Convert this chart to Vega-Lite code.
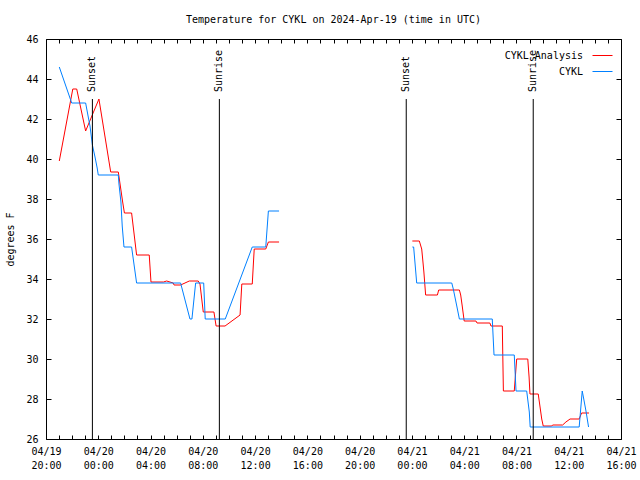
{
  "$schema": "https://vega.github.io/schema/vega-lite/v6.json",
  "autosize": "none",
  "width": 575,
  "height": 400,
  "padding": {"left": 46, "top": 39, "right": 19, "bottom": 41},
  "background": "white",
  "title": {"text": "Temperature for CYKL on 2024-Apr-19 (time in UTC)", "font": "DejaVu Sans Mono", "fontSize": 10, "fontWeight": "normal", "color": "black", "offset": 9, "anchor": "middle"},
  "config": {
    "view": {"stroke": "black", "strokeWidth": 1},
    "font": "DejaVu Sans Mono",
    "axis": {"labelFont": "DejaVu Sans Mono", "labelFontSize": 10, "labelColor": "black", "tickColor": "black", "tickWidth": 1, "domain": false, "grid": false, "titleFont": "DejaVu Sans Mono", "titleFontSize": 10, "titleFontWeight": "normal", "titleColor": "black"},
    "legend": {"labelFont": "DejaVu Sans Mono", "labelFontSize": 10, "labelColor": "black"}
  },
  "datasets": {
    "temps": [
      {"series": "CYKL Analysis", "seg": 1, "t": "2024-04-19T21:01:00Z", "temp": 39.9},
      {"series": "CYKL Analysis", "seg": 1, "t": "2024-04-19T22:03:00Z", "temp": 43.5},
      {"series": "CYKL Analysis", "seg": 1, "t": "2024-04-19T22:21:00Z", "temp": 43.5},
      {"series": "CYKL Analysis", "seg": 1, "t": "2024-04-19T23:02:00Z", "temp": 41.4},
      {"series": "CYKL Analysis", "seg": 1, "t": "2024-04-20T00:03:00Z", "temp": 43.0},
      {"series": "CYKL Analysis", "seg": 1, "t": "2024-04-20T00:57:00Z", "temp": 39.35},
      {"series": "CYKL Analysis", "seg": 1, "t": "2024-04-20T01:32:00Z", "temp": 39.35},
      {"series": "CYKL Analysis", "seg": 1, "t": "2024-04-20T01:40:00Z", "temp": 38.75},
      {"series": "CYKL Analysis", "seg": 1, "t": "2024-04-20T01:52:00Z", "temp": 37.85},
      {"series": "CYKL Analysis", "seg": 1, "t": "2024-04-20T02:00:00Z", "temp": 37.3},
      {"series": "CYKL Analysis", "seg": 1, "t": "2024-04-20T02:33:00Z", "temp": 37.3},
      {"series": "CYKL Analysis", "seg": 1, "t": "2024-04-20T02:56:00Z", "temp": 35.2},
      {"series": "CYKL Analysis", "seg": 1, "t": "2024-04-20T03:54:00Z", "temp": 35.2},
      {"series": "CYKL Analysis", "seg": 1, "t": "2024-04-20T04:02:00Z", "temp": 33.85},
      {"series": "CYKL Analysis", "seg": 1, "t": "2024-04-20T04:59:00Z", "temp": 33.85},
      {"series": "CYKL Analysis", "seg": 1, "t": "2024-04-20T05:14:00Z", "temp": 33.9},
      {"series": "CYKL Analysis", "seg": 1, "t": "2024-04-20T05:44:00Z", "temp": 33.8},
      {"series": "CYKL Analysis", "seg": 1, "t": "2024-04-20T05:48:00Z", "temp": 33.7},
      {"series": "CYKL Analysis", "seg": 1, "t": "2024-04-20T06:18:00Z", "temp": 33.7},
      {"series": "CYKL Analysis", "seg": 1, "t": "2024-04-20T06:58:00Z", "temp": 33.9},
      {"series": "CYKL Analysis", "seg": 1, "t": "2024-04-20T07:39:00Z", "temp": 33.9},
      {"series": "CYKL Analysis", "seg": 1, "t": "2024-04-20T07:47:00Z", "temp": 33.75},
      {"series": "CYKL Analysis", "seg": 1, "t": "2024-04-20T08:02:00Z", "temp": 32.35},
      {"series": "CYKL Analysis", "seg": 1, "t": "2024-04-20T08:51:00Z", "temp": 32.35},
      {"series": "CYKL Analysis", "seg": 1, "t": "2024-04-20T09:01:00Z", "temp": 31.65},
      {"series": "CYKL Analysis", "seg": 1, "t": "2024-04-20T09:42:00Z", "temp": 31.65},
      {"series": "CYKL Analysis", "seg": 1, "t": "2024-04-20T10:51:00Z", "temp": 32.2},
      {"series": "CYKL Analysis", "seg": 1, "t": "2024-04-20T10:59:00Z", "temp": 33.75},
      {"series": "CYKL Analysis", "seg": 1, "t": "2024-04-20T11:47:00Z", "temp": 33.75},
      {"series": "CYKL Analysis", "seg": 1, "t": "2024-04-20T11:56:00Z", "temp": 35.5},
      {"series": "CYKL Analysis", "seg": 1, "t": "2024-04-20T12:49:00Z", "temp": 35.5},
      {"series": "CYKL Analysis", "seg": 1, "t": "2024-04-20T13:01:00Z", "temp": 35.85},
      {"series": "CYKL Analysis", "seg": 1, "t": "2024-04-20T13:50:00Z", "temp": 35.85},
      {"series": "CYKL Analysis", "seg": 2, "t": "2024-04-21T00:02:00Z", "temp": 35.9},
      {"series": "CYKL Analysis", "seg": 2, "t": "2024-04-21T00:34:00Z", "temp": 35.9},
      {"series": "CYKL Analysis", "seg": 2, "t": "2024-04-21T00:45:00Z", "temp": 35.5},
      {"series": "CYKL Analysis", "seg": 2, "t": "2024-04-21T00:49:00Z", "temp": 35.05},
      {"series": "CYKL Analysis", "seg": 2, "t": "2024-04-21T00:55:00Z", "temp": 34.35},
      {"series": "CYKL Analysis", "seg": 2, "t": "2024-04-21T01:03:00Z", "temp": 33.2},
      {"series": "CYKL Analysis", "seg": 2, "t": "2024-04-21T01:57:00Z", "temp": 33.2},
      {"series": "CYKL Analysis", "seg": 2, "t": "2024-04-21T02:03:00Z", "temp": 33.45},
      {"series": "CYKL Analysis", "seg": 2, "t": "2024-04-21T03:38:00Z", "temp": 33.45},
      {"series": "CYKL Analysis", "seg": 2, "t": "2024-04-21T03:44:00Z", "temp": 33.2},
      {"series": "CYKL Analysis", "seg": 2, "t": "2024-04-21T03:51:00Z", "temp": 32.65},
      {"series": "CYKL Analysis", "seg": 2, "t": "2024-04-21T04:00:00Z", "temp": 31.9},
      {"series": "CYKL Analysis", "seg": 2, "t": "2024-04-21T04:54:00Z", "temp": 31.9},
      {"series": "CYKL Analysis", "seg": 2, "t": "2024-04-21T04:59:00Z", "temp": 31.8},
      {"series": "CYKL Analysis", "seg": 2, "t": "2024-04-21T05:58:00Z", "temp": 31.8},
      {"series": "CYKL Analysis", "seg": 2, "t": "2024-04-21T06:03:00Z", "temp": 31.65},
      {"series": "CYKL Analysis", "seg": 2, "t": "2024-04-21T06:55:00Z", "temp": 31.65},
      {"series": "CYKL Analysis", "seg": 2, "t": "2024-04-21T07:00:00Z", "temp": 28.4},
      {"series": "CYKL Analysis", "seg": 2, "t": "2024-04-21T07:50:00Z", "temp": 28.4},
      {"series": "CYKL Analysis", "seg": 2, "t": "2024-04-21T08:01:00Z", "temp": 30.0},
      {"series": "CYKL Analysis", "seg": 2, "t": "2024-04-21T08:52:00Z", "temp": 30.0},
      {"series": "CYKL Analysis", "seg": 2, "t": "2024-04-21T08:58:00Z", "temp": 29.1},
      {"series": "CYKL Analysis", "seg": 2, "t": "2024-04-21T09:02:00Z", "temp": 28.25},
      {"series": "CYKL Analysis", "seg": 2, "t": "2024-04-21T09:40:00Z", "temp": 28.25},
      {"series": "CYKL Analysis", "seg": 2, "t": "2024-04-21T09:56:00Z", "temp": 27.0},
      {"series": "CYKL Analysis", "seg": 2, "t": "2024-04-21T10:03:00Z", "temp": 26.65},
      {"series": "CYKL Analysis", "seg": 2, "t": "2024-04-21T10:42:00Z", "temp": 26.65},
      {"series": "CYKL Analysis", "seg": 2, "t": "2024-04-21T10:46:00Z", "temp": 26.7},
      {"series": "CYKL Analysis", "seg": 2, "t": "2024-04-21T11:32:00Z", "temp": 26.7},
      {"series": "CYKL Analysis", "seg": 2, "t": "2024-04-21T11:47:00Z", "temp": 26.85},
      {"series": "CYKL Analysis", "seg": 2, "t": "2024-04-21T12:06:00Z", "temp": 27.0},
      {"series": "CYKL Analysis", "seg": 2, "t": "2024-04-21T12:48:00Z", "temp": 27.0},
      {"series": "CYKL Analysis", "seg": 2, "t": "2024-04-21T12:59:00Z", "temp": 27.3},
      {"series": "CYKL Analysis", "seg": 2, "t": "2024-04-21T13:33:00Z", "temp": 27.3},
      {"series": "CYKL", "seg": 3, "t": "2024-04-19T21:01:00Z", "temp": 44.6},
      {"series": "CYKL", "seg": 3, "t": "2024-04-19T21:58:00Z", "temp": 42.8},
      {"series": "CYKL", "seg": 3, "t": "2024-04-19T23:02:00Z", "temp": 42.8},
      {"series": "CYKL", "seg": 3, "t": "2024-04-19T23:14:00Z", "temp": 42.1},
      {"series": "CYKL", "seg": 3, "t": "2024-04-19T23:22:00Z", "temp": 41.65},
      {"series": "CYKL", "seg": 3, "t": "2024-04-19T23:33:00Z", "temp": 40.7},
      {"series": "CYKL", "seg": 3, "t": "2024-04-19T23:45:00Z", "temp": 40.1},
      {"series": "CYKL", "seg": 3, "t": "2024-04-19T23:55:00Z", "temp": 39.55},
      {"series": "CYKL", "seg": 3, "t": "2024-04-20T00:00:00Z", "temp": 39.2},
      {"series": "CYKL", "seg": 3, "t": "2024-04-20T01:32:00Z", "temp": 39.2},
      {"series": "CYKL", "seg": 3, "t": "2024-04-20T01:35:00Z", "temp": 38.75},
      {"series": "CYKL", "seg": 3, "t": "2024-04-20T01:44:00Z", "temp": 37.85},
      {"series": "CYKL", "seg": 3, "t": "2024-04-20T01:50:00Z", "temp": 36.65},
      {"series": "CYKL", "seg": 3, "t": "2024-04-20T01:58:00Z", "temp": 35.6},
      {"series": "CYKL", "seg": 3, "t": "2024-04-20T02:33:00Z", "temp": 35.6},
      {"series": "CYKL", "seg": 3, "t": "2024-04-20T02:56:00Z", "temp": 33.8},
      {"series": "CYKL", "seg": 3, "t": "2024-04-20T06:18:00Z", "temp": 33.8},
      {"series": "CYKL", "seg": 3, "t": "2024-04-20T07:01:00Z", "temp": 32.0},
      {"series": "CYKL", "seg": 3, "t": "2024-04-20T07:10:00Z", "temp": 32.0},
      {"series": "CYKL", "seg": 3, "t": "2024-04-20T07:27:00Z", "temp": 33.8},
      {"series": "CYKL", "seg": 3, "t": "2024-04-20T08:04:00Z", "temp": 33.8},
      {"series": "CYKL", "seg": 3, "t": "2024-04-20T08:11:00Z", "temp": 32.0},
      {"series": "CYKL", "seg": 3, "t": "2024-04-20T09:43:00Z", "temp": 32.0},
      {"series": "CYKL", "seg": 3, "t": "2024-04-20T11:47:00Z", "temp": 35.6},
      {"series": "CYKL", "seg": 3, "t": "2024-04-20T12:49:00Z", "temp": 35.6},
      {"series": "CYKL", "seg": 3, "t": "2024-04-20T13:01:00Z", "temp": 37.4},
      {"series": "CYKL", "seg": 3, "t": "2024-04-20T13:50:00Z", "temp": 37.4},
      {"series": "CYKL", "seg": 4, "t": "2024-04-21T00:02:00Z", "temp": 35.6},
      {"series": "CYKL", "seg": 4, "t": "2024-04-21T00:08:00Z", "temp": 35.6},
      {"series": "CYKL", "seg": 4, "t": "2024-04-21T00:22:00Z", "temp": 33.8},
      {"series": "CYKL", "seg": 4, "t": "2024-04-21T03:03:00Z", "temp": 33.8},
      {"series": "CYKL", "seg": 4, "t": "2024-04-21T03:10:00Z", "temp": 33.5},
      {"series": "CYKL", "seg": 4, "t": "2024-04-21T03:26:00Z", "temp": 32.65},
      {"series": "CYKL", "seg": 4, "t": "2024-04-21T03:38:00Z", "temp": 32.0},
      {"series": "CYKL", "seg": 4, "t": "2024-04-21T06:09:00Z", "temp": 32.0},
      {"series": "CYKL", "seg": 4, "t": "2024-04-21T06:17:00Z", "temp": 30.2},
      {"series": "CYKL", "seg": 4, "t": "2024-04-21T07:50:00Z", "temp": 30.2},
      {"series": "CYKL", "seg": 4, "t": "2024-04-21T07:58:00Z", "temp": 28.4},
      {"series": "CYKL", "seg": 4, "t": "2024-04-21T08:47:00Z", "temp": 28.4},
      {"series": "CYKL", "seg": 4, "t": "2024-04-21T08:59:00Z", "temp": 27.35},
      {"series": "CYKL", "seg": 4, "t": "2024-04-21T09:03:00Z", "temp": 26.6},
      {"series": "CYKL", "seg": 4, "t": "2024-04-21T12:48:00Z", "temp": 26.6},
      {"series": "CYKL", "seg": 4, "t": "2024-04-21T13:02:00Z", "temp": 28.4},
      {"series": "CYKL", "seg": 4, "t": "2024-04-21T13:09:00Z", "temp": 28.0},
      {"series": "CYKL", "seg": 4, "t": "2024-04-21T13:20:00Z", "temp": 27.35},
      {"series": "CYKL", "seg": 4, "t": "2024-04-21T13:31:00Z", "temp": 26.6}
    ],
    "events": [
      {"t": "2024-04-19T23:33:00Z", "label": "Sunset"},
      {"t": "2024-04-20T09:16:00Z", "label": "Sunrise"},
      {"t": "2024-04-20T23:34:00Z", "label": "Sunset"},
      {"t": "2024-04-21T09:17:00Z", "label": "Sunrise"}
    ]
  },
  "layer": [
    {
      "data": {"name": "temps"},
      "mark": {"type": "line", "strokeWidth": 1},
      "encoding": {
        "x": {
          "field": "t", "type": "temporal",
          "scale": {"type": "utc", "domain": [1713556800000, 1713715200000]},
          "axis": {"orient": "bottom", "title": null, "values": [1713556800000, 1713560400000, 1713564000000, 1713567600000, 1713571200000, 1713574800000, 1713578400000, 1713582000000, 1713585600000, 1713589200000, 1713592800000, 1713596400000, 1713600000000, 1713603600000, 1713607200000, 1713610800000, 1713614400000, 1713618000000, 1713621600000, 1713625200000, 1713628800000, 1713632400000, 1713636000000, 1713639600000, 1713643200000, 1713646800000, 1713650400000, 1713654000000, 1713657600000, 1713661200000, 1713664800000, 1713668400000, 1713672000000, 1713675600000, 1713679200000, 1713682800000, 1713686400000, 1713690000000, 1713693600000, 1713697200000, 1713700800000, 1713704400000, 1713708000000, 1713711600000, 1713715200000], "offset": -4, "tickSize": 4, "labelPadding": 7, "labelFlush": false, "labelOverlap": false, "labelLineHeight": 14, "labelExpr": "utchours(datum.value) % 4 == 0 ? [utcFormat(datum.value, '%m/%d'), utcFormat(datum.value, '%H:%M')] : ''"}
        },
        "y": {
          "field": "temp", "type": "quantitative",
          "scale": {"domain": [26, 46], "nice": false, "zero": false},
          "axis": {"orient": "left", "title": "degrees F", "values": [26, 28, 30, 32, 34, 36, 38, 40, 42, 44, 46], "offset": -5, "tickSize": 5, "labelPadding": 8, "labelOverlap": false, "titlePadding": 10}
        },
        "color": {
          "field": "series", "type": "nominal",
          "scale": {"domain": ["CYKL Analysis", "CYKL"], "range": ["#ff0000", "#0080ff"]},
          "legend": {"orient": "top-right", "title": null, "offset": 6, "symbolType": "stroke", "symbolSize": 400, "symbolStrokeWidth": 1, "labelAlign": "right", "labelOffset": -30, "rowPadding": 0, "padding": 0}
        },
        "detail": {"field": "seg", "type": "nominal"}
      }
    },
    {
      "data": {"name": "events"},
      "mark": {"type": "rule", "color": "black", "strokeWidth": 1},
      "encoding": {
        "x": {"field": "t", "type": "temporal", "axis": {"orient": "top", "title": null, "labels": false, "values": [1713556800000, 1713560400000, 1713564000000, 1713567600000, 1713571200000, 1713574800000, 1713578400000, 1713582000000, 1713585600000, 1713589200000, 1713592800000, 1713596400000, 1713600000000, 1713603600000, 1713607200000, 1713610800000, 1713614400000, 1713618000000, 1713621600000, 1713625200000, 1713628800000, 1713632400000, 1713636000000, 1713639600000, 1713643200000, 1713646800000, 1713650400000, 1713654000000, 1713657600000, 1713661200000, 1713664800000, 1713668400000, 1713672000000, 1713675600000, 1713679200000, 1713682800000, 1713686400000, 1713690000000, 1713693600000, 1713697200000, 1713700800000, 1713704400000, 1713708000000, 1713711600000, 1713715200000], "offset": -4, "tickSize": 4}},
        "y": {"datum": 43, "type": "quantitative", "axis": {"orient": "right", "title": null, "labels": false, "values": [26, 28, 30, 32, 34, 36, 38, 40, 42, 44, 46], "offset": -5, "tickSize": 5}},
        "y2": {"datum": 26}
      }
    },
    {
      "data": {"name": "events"},
      "mark": {"type": "text", "angle": 270, "align": "left", "baseline": "middle", "font": "DejaVu Sans Mono", "fontSize": 10, "color": "black"},
      "encoding": {
        "x": {"field": "t", "type": "temporal", "axis": null},
        "y": {"datum": 43.35, "type": "quantitative", "axis": null},
        "text": {"field": "label"}
      }
    }
  ],
  "resolve": {"axis": {"x": "independent", "y": "independent"}}
}
